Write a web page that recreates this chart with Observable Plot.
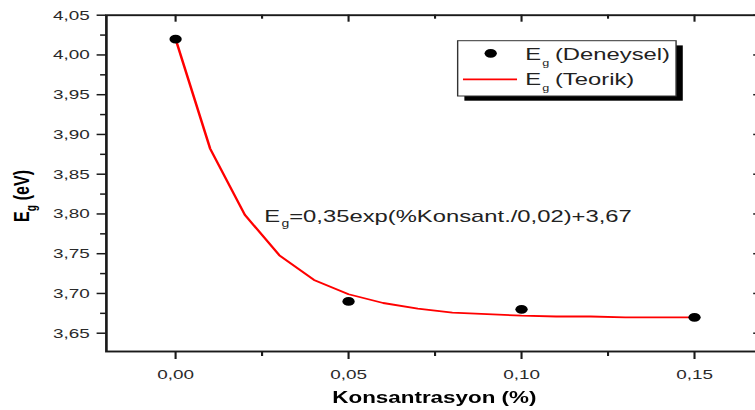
<!DOCTYPE html>
<html><head><meta charset="utf-8">
<script src="https://cdn.jsdelivr.net/npm/d3@7"></script>
<script src="https://cdn.jsdelivr.net/npm/@observablehq/plot@0.6"></script>
<style>
html,body{margin:0;padding:0;background:#fff;}
#wrap{width:755px;height:410px;overflow:hidden;position:relative;background:#fff;}
#chart{position:absolute;left:0;top:0;transform:scaleX(1.4);transform-origin:0 0;}
</style></head><body>
<div id="wrap"><div id="chart"></div></div>
<script>
// Measured band gap (Deneysel)
const concentration = [0.00, 0.05, 0.10, 0.15];
const egMeasured = [4.02, 3.69, 3.68, 3.67];
// Fitted curve (Teorik)
const fitConcentration = [0.00, 0.01, 0.02, 0.03, 0.04, 0.05, 0.06, 0.07, 0.08, 0.09, 0.10, 0.11, 0.12, 0.13, 0.14, 0.15];
const fitEg = [4.020, 3.882, 3.799, 3.748, 3.717, 3.699, 3.688, 3.681, 3.676, 3.674, 3.672, 3.671, 3.671, 3.670, 3.670, 3.670];
// Axis ticks
const xTicks = [0.00, 0.05, 0.10, 0.15];
const xMinorTicks = [0.025, 0.075, 0.125];
const yTicks = [3.65, 3.70, 3.75, 3.80, 3.85, 3.90, 3.95, 4.00, 4.05];
const yMinorTicks = [3.675, 3.725, 3.775, 3.825, 3.875, 3.925, 3.975, 4.025];
// Texts
const xTitle = "Konsantrasyon (%)";
const yTitleMain = "E", yTitleSub = "g", yTitleRest = "(eV)";
const legendLabels = ["(Deneysel)", "(Teorik)"];
const annotationRest = "=0,35exp(%Konsant./0,02)+3,67";
const annotationPos = [{x: 0.0256, y: 3.7896}];

const points = concentration.map((c, i) => ({x: c, y: egMeasured[i]}));
const fit = fitConcentration.map((c, i) => ({x: c, y: fitEg[i]}));
const fmt = d => d3.format(".2f")(d).replace(".", ",");

const W = 548, H = 410, mL = 75.5, mR = 3, mT = 14.7, mB = 59;
const plotW = W - mL - mR, plotH = H - mT - mB;
const ink = "#1a1a1a";
const font = "'Liberation Sans', Arial, sans-serif";

const plot = Plot.plot({
  width: W, height: H,
  marginLeft: mL, marginRight: mR, marginTop: mT, marginBottom: mB,
  x: {domain: [-0.02, 0.17]},
  y: {domain: [3.627, 4.05]},
  style: {fontFamily: font, fontSize: "13.5px", color: "#2a2a2a", background: "#fff", overflow: "visible"},
  marks: [
    Plot.frame({stroke: ink, strokeWidth: 1.9}),
    // bottom & left axes (outward ticks + labels)
    Plot.axisX({ticks: xTicks, tickSize: 8, tickPadding: 10, tickFormat: fmt, label: null, stroke: ink, strokeWidth: 1.5, fill: "#2a2a2a", fontSize: 13.5}),
    Plot.axisY({ticks: yTicks, tickSize: 6.5, tickPadding: 5.4, tickFormat: fmt, label: null, stroke: ink, strokeWidth: 1.5, fill: "#2a2a2a", fontSize: 13.5}),
    // minor outward ticks
    Plot.tickX(xMinorTicks, {x: d => d, insetTop: plotH, insetBottom: -5, stroke: ink, strokeWidth: 1.5}),
    Plot.tickY(yMinorTicks, {y: d => d, insetRight: plotW, insetLeft: -4, stroke: ink, strokeWidth: 1.5}),
    // inward ticks on top and right
    Plot.tickX(xTicks, {x: d => d, insetBottom: plotH - 7, stroke: ink, strokeWidth: 1.5}),
    Plot.tickX(xMinorTicks, {x: d => d, insetBottom: plotH - 4, stroke: ink, strokeWidth: 1.5}),
    Plot.tickY(yTicks, {y: d => d, insetLeft: plotW - 7, stroke: ink, strokeWidth: 1.5}),
    Plot.tickY(yMinorTicks, {y: d => d, insetLeft: plotW - 4, stroke: ink, strokeWidth: 1.5}),
    // data
    Plot.line(fit, {x: "x", y: "y", stroke: "#ff0000", strokeWidth: 1.8}),
    Plot.dot(points, {x: "x", y: "y", r: 4.4, fill: "#000", stroke: "none"}),
    // annotation
    Plot.text(annotationPos, {x: "x", y: "y", text: () => "E", textAnchor: "start", lineAnchor: "bottom", fontSize: 17, fill: "#222"}),
    Plot.text(annotationPos, {x: "x", y: "y", text: () => "g", textAnchor: "start", lineAnchor: "bottom", fontSize: 10, dx: 12.4, dy: 5, fill: "#222"}),
    Plot.text(annotationPos, {x: "x", y: "y", text: () => annotationRest, textAnchor: "start", lineAnchor: "bottom", fontSize: 17, dx: 17.9, fill: "#222"})
  ]
});

document.getElementById("chart").appendChild(plot);
const svg = d3.select(plot);

// Axis titles
svg.append("text")
  .attr("x", mL + plotW / 2).attr("y", 402.7)
  .attr("text-anchor", "middle").attr("font-family", font)
  .attr("font-weight", "bold").attr("font-size", 16).attr("fill", "#000")
  .text(xTitle);

const yt = svg.append("text")
  .attr("transform", "translate(20.7,222) rotate(-90)")
  .attr("text-anchor", "start").attr("font-family", font)
  .attr("font-weight", "bold").attr("font-size", 16).attr("fill", "#000");
yt.append("tspan").text(yTitleMain);
yt.append("tspan").attr("font-size", 10).attr("dy", 5).text(yTitleSub);
yt.append("tspan").attr("dy", -5).attr("dx", 5).text(yTitleRest);

// Legend
const lg = svg.append("g").attr("text-anchor", "start");
const bx = 326.9, by = 40.7, bw = 156, bh = 55.3;
lg.append("rect").attr("x", bx + 4.8).attr("y", by + 4.7).attr("width", bw).attr("height", bh).attr("fill", "#000");
lg.append("rect").attr("x", bx).attr("y", by).attr("width", bw).attr("height", bh).attr("fill", "#fff").attr("stroke", "#333").attr("stroke-width", 1);
lg.append("circle").attr("cx", 350.5).attr("cy", 53.3).attr("r", 4.4).attr("fill", "#000");
lg.append("line").attr("x1", 330.7).attr("x2", 369.3).attr("y1", 79.3).attr("y2", 79.3).attr("stroke", "#ff0000").attr("stroke-width", 1.8);
[60, 85].forEach((baseY, i) => {
  const t = lg.append("text").attr("x", 375.2).attr("y", baseY)
    .attr("text-anchor", "start")
    .attr("font-family", font).attr("font-size", 17).attr("fill", "#222");
  t.append("tspan").text("E");
  t.append("tspan").attr("font-size", 9).attr("dy", 6).attr("x", 387.4).text("g");
  t.append("tspan").attr("dy", -6).attr("x", 396.4).text(legendLabels[i]);
});
</script>
</body></html>
